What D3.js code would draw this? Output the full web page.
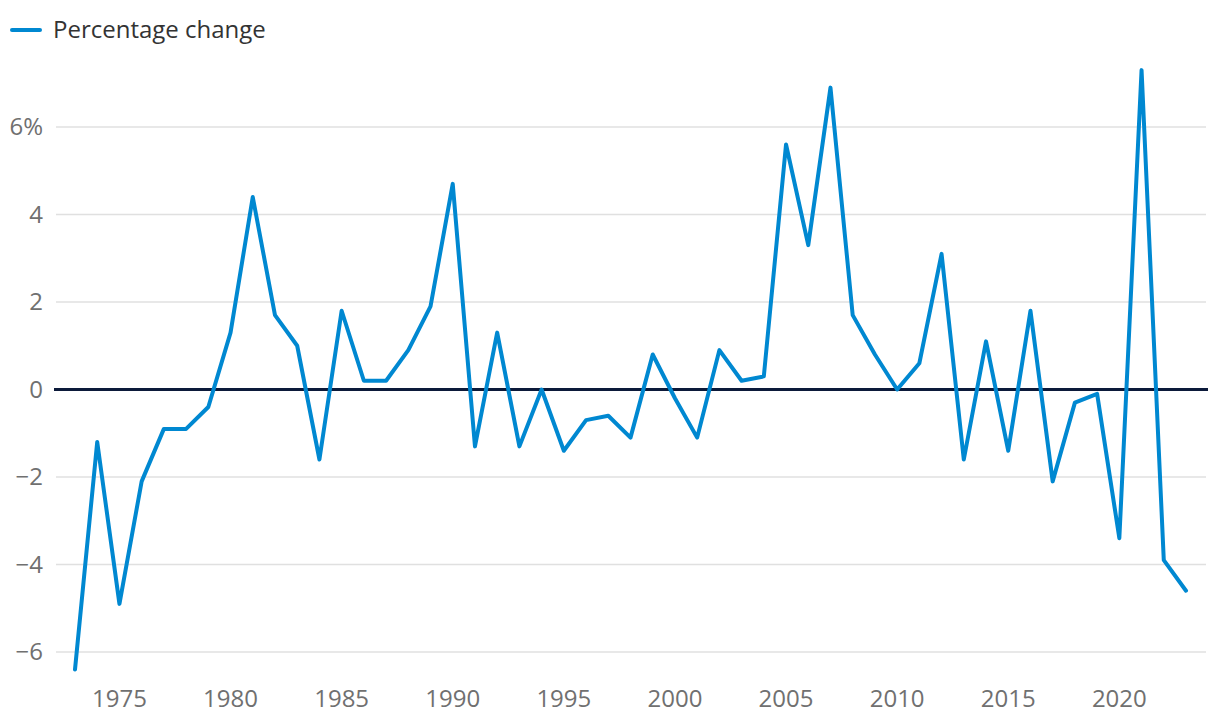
<!DOCTYPE html>
<html><head><meta charset="utf-8">
<script src="https://cdn.jsdelivr.net/npm/d3@7"></script>
<style>body{margin:0;background:#fff;} text{font-family:"Open Sans",sans-serif;}</style>
</head><body>
<svg id="c" width="1220" height="724"></svg>
<script>
const years = d3.range(1973, 2024);
const values = [-6.4,-1.2,-4.9,-2.1,-0.9,-0.9,-0.4,1.3,4.4,1.7,1.0,-1.6,1.8,0.2,0.2,0.9,1.9,4.7,-1.3,1.3,-1.3,0,-1.4,-0.7,-0.6,-1.1,0.8,-0.2,-1.1,0.9,0.2,0.3,5.6,3.3,6.9,1.7,0.8,0,0.6,3.1,-1.6,1.1,-1.4,1.8,-2.1,-0.3,-0.1,-3.4,7.3,-3.9,-4.6];
const yTicks = [-6,-4,-2,0,2,4,6];
const xTicks = [1975,1980,1985,1990,1995,2000,2005,2010,2015,2020];
const seriesName = "Percentage change";

const svg = d3.select("#c");
const x = d3.scaleLinear().domain([1973, 2023]).range([75, 1186]);
const y = d3.scaleLinear().domain([-6, 6]).range([652, 127]);

// gridlines
svg.append("g").selectAll("line").data(yTicks.filter(d => d !== 0)).join("line")
  .attr("x1", 56).attr("x2", 1206)
  .attr("y1", d => y(d)).attr("y2", d => y(d))
  .attr("stroke", "#e0e0e0").attr("stroke-width", 1.5);

// y labels
svg.append("g").selectAll("text").data(yTicks).join("text")
  .attr("x", 43).attr("y", d => y(d)).attr("dy", "0.35em")
  .attr("text-anchor", "end").attr("fill", "#707070").attr("font-size", 24)
  .text(d => d === 6 ? "6%" : (d < 0 ? "\u2212" + Math.abs(d) : d));

// x labels
svg.append("g").selectAll("text").data(xTicks).join("text")
  .attr("x", d => x(d)).attr("y", 707)
  .attr("text-anchor", "middle").attr("fill", "#707070").attr("font-size", 24)
  .text(d => d);

// zero line
svg.append("line").attr("x1", 54).attr("x2", 1208)
  .attr("y1", y(0)).attr("y2", y(0))
  .attr("stroke", "#0c1a3a").attr("stroke-width", 3);

// series line
const line = d3.line().x((d, i) => x(years[i])).y(d => y(d));
svg.append("path").datum(values).attr("d", line)
  .attr("fill", "none").attr("stroke", "#0088d1").attr("stroke-width", 4)
  .attr("stroke-linejoin", "round").attr("stroke-linecap", "round");

// legend
svg.append("line").attr("x1", 12).attr("x2", 40).attr("y1", 30).attr("y2", 30)
  .attr("stroke", "#0088d1").attr("stroke-width", 4).attr("stroke-linecap", "round");
svg.append("text").attr("x", 53).attr("y", 38).attr("fill", "#333")
  .attr("font-size", 24).text(seriesName);
</script>
</body></html>
